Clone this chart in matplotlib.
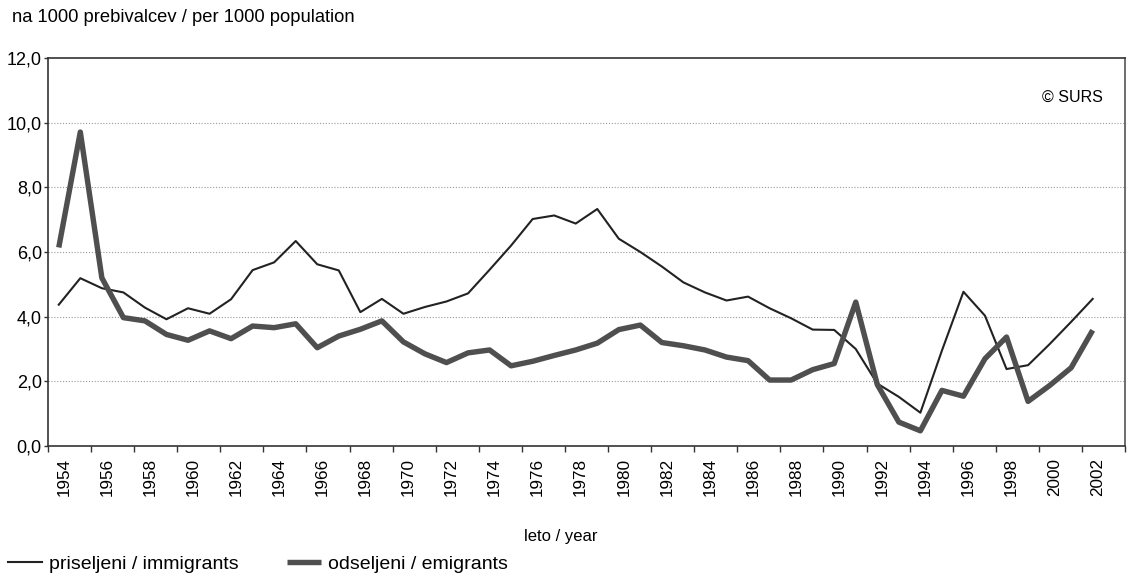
import numpy as np
import matplotlib
matplotlib.use("Agg")
import matplotlib.pyplot as plt
from matplotlib.transforms import ScaledTranslation

# ---- data -------------------------------------------------------------
years = list(range(1954, 2003))
immigrants = [4.37, 5.19, 4.88, 4.75, 4.28, 3.92, 4.26, 4.09, 4.54, 5.44,
              5.68, 6.34, 5.62, 5.43, 4.14, 4.55, 4.09, 4.30, 4.47, 4.72,
              5.45, 6.20, 7.02, 7.13, 6.88, 7.33, 6.41, 6.00, 5.55, 5.06,
              4.75, 4.50, 4.62, 4.26, 3.95, 3.60, 3.59, 3.00, 1.93, 1.52,
              1.03, 2.95, 4.77, 4.03, 2.38, 2.50, 3.15, 3.84, 4.55]
emigrants = [6.14, 9.71, 5.20, 3.97, 3.87, 3.45, 3.27, 3.56, 3.32, 3.71,
             3.66, 3.78, 3.04, 3.40, 3.61, 3.87, 3.22, 2.85, 2.58, 2.88,
             2.97, 2.48, 2.62, 2.80, 2.97, 3.18, 3.60, 3.74, 3.20, 3.10,
             2.97, 2.75, 2.64, 2.04, 2.04, 2.36, 2.55, 4.45, 1.90, 0.74,
             0.47, 1.72, 1.54, 2.70, 3.37, 1.38, 1.87, 2.42, 3.58]
y_ticks = [0, 2, 4, 6, 8, 10, 12]
label_years = years[::2]
series_names = ["priseljeni / immigrants", "odseljeni / emigrants"]
title = "na 1000 prebivalcev / per 1000 population"
x_title = "leto / year"
source = "\u00a9 SURS"

# ---- figure -----------------------------------------------------------
plt.rcParams["font.family"] = ["Liberation Sans", "DejaVu Sans"]
W, H = 1129, 577
fig = plt.figure(figsize=(W / 100, H / 100), dpi=100)
fig.patch.set_facecolor("white")
ax = fig.add_axes([48 / W, 1 - 446 / H, 1077 / W, 388 / H])

n_cat = len(years) + 1  # axis holds one empty category after the last year
x = np.arange(len(years))

l1, = ax.plot(x, immigrants, color="#222222", lw=1.5, label=series_names[0],
              solid_joinstyle="round", zorder=3)
l2, = ax.plot(x, emigrants, color="#4f4f4f", lw=3.9, label=series_names[1],
              solid_joinstyle="round", solid_capstyle="butt", zorder=4)

ax.set_xlim(-0.5, n_cat - 0.5)
ax.set_ylim(y_ticks[0], y_ticks[-1])

# y axis
ax.set_yticks(y_ticks)
ax.set_yticklabels([f"{v:.1f}".replace(".", ",") for v in y_ticks], fontsize=13)
ax.tick_params(axis="y", length=3, width=1, color="#333333", pad=1.5)
ax.yaxis.grid(True, linestyle=(0, (1, 1.6)), color="#9a9a9a", lw=0.8)
for gl in ax.yaxis.get_gridlines()[:1] + ax.yaxis.get_gridlines()[-1:]:
    gl.set_visible(False)

# x axis: labels on even years, tick marks between category groups
ax.set_xticks([years.index(y) for y in label_years])
ax.set_xticklabels([str(y) for y in label_years], rotation=90, fontsize=12.3)
ax.set_xticks(np.arange(-0.5, n_cat, 2), minor=True)
ax.tick_params(axis="x", which="major", length=0, pad=8.5)
ax.tick_params(axis="x", which="minor", length=4.5, width=1, color="#333333")
offset = ScaledTranslation(5 / 100, 0, fig.dpi_scale_trans)
for lab in ax.get_xticklabels():
    lab.set_transform(lab.get_transform() + offset)

for s in ax.spines.values():
    s.set_color("#333333")
    s.set_linewidth(1.2)
ax.spines["right"].set_color("#555555")

# texts
fig.text(12 / W, 1 - 17 / H, title, ha="left", va="center", fontsize=13.2)
fig.text(1103 / W, 1 - 97 / H, source, ha="right", va="center", fontsize=11.5)
fig.text(561 / W, 1 - 537 / H, x_title, ha="center", va="center", fontsize=12)

fig.legend(handles=[l1, l2], loc="center left",
           bbox_to_anchor=(8 / W, 1 - 564 / H), ncol=2, frameon=False,
           fontsize=14, handlelength=1.75, handletextpad=0.35,
           columnspacing=2.5, borderaxespad=0, borderpad=0)

fig.savefig("out.png", dpi=100, facecolor="white")
